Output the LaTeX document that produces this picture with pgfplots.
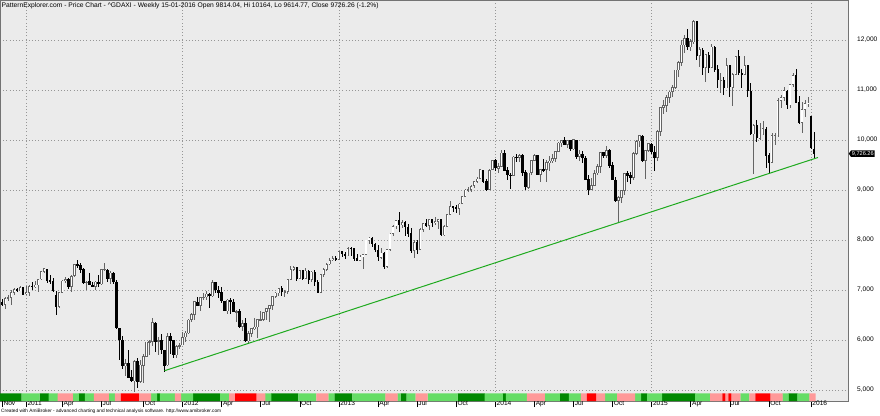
\documentclass[border=0pt]{standalone}
\usepackage{fontspec}
\setmainfont{Liberation Sans}
\usepackage{pgfplots}
\pgfplotsset{compat=1.18}
\usepackage{pgfplotstable}
\usetikzlibrary{shapes.symbols}
\definecolor{bgc}{RGB}{235,235,235}
\definecolor{dgreen}{RGB}{0,136,0}
\definecolor{lgreen}{RGB}{102,221,102}
\definecolor{pinkc}{RGB}{255,153,153}
\definecolor{redc}{RGB}{255,0,0}
\definecolor{trend}{RGB}{30,170,30}
\definecolor{upc}{RGB}{100,100,100}
\definecolor{gridc}{RGB}{150,150,150}

\pgfplotstableread{
i o h l c k
0 6610 6800 6580 6754 1
1 6760 6830 6680 6700 1
2 6700 6850 6620 6830 1
3 6830 6900 6780 6849 1
4 6850 6990 6700 6947 1
5 6950 7040 6900 7006 1
6 7010 7050 6960 6982 1
7 6980 7080 6970 7057 1
8 7050 7060 6900 6914 2
9 6920 7080 6900 6948 2
10 6950 7100 6880 7075 2
11 7080 7160 7000 7062 2
12 7060 7180 7030 7102 2
13 7100 7230 6960 7216 2
14 7220 7380 7200 7371 1
15 7370 7440 7330 7426 1
16 7420 7430 7150 7185 1
17 7190 7300 7120 7178 2
18 7180 7230 6950 6981 2
19 6900 6970 6500 6664 2
20 6670 6960 6640 6946 3
21 6950 7200 6940 7180 3
22 7180 7250 7140 7217 3
23 7210 7230 7020 7073 3
24 7070 7290 6960 7276 3
25 7280 7520 7270 7514 2
26 7510 7600 7440 7492 2
27 7490 7540 7350 7410 1
28 7410 7450 7130 7152 1
29 7150 7190 7000 7163 2
30 7170 7330 7100 7109 2
31 7100 7160 7050 7069 2
32 7070 7180 7000 7164 3
33 7160 7290 7060 7121 3
34 7120 7420 7110 7419 3
35 7420 7530 7380 7420 3
36 7400 7420 7150 7220 3
37 7220 7380 7120 7344 2
38 7340 7360 7130 7158 2
39 7150 7200 6220 6236 3
40 6230 6250 5610 5997 3
41 6000 6080 5430 5480 4
42 5480 5620 5280 5537 4
43 5540 5800 5240 5246 4
44 5250 5410 5170 5189 4
45 5180 5600 4965 5574 4
46 5570 5650 5050 5164 4
47 5170 5600 5150 5502 3
48 5490 5730 5150 5675 3
49 5670 5970 5660 5965 3
50 5960 6000 5700 5971 3
51 5970 6430 5880 6346 2
52 6340 6350 5760 5966 2
53 5970 6060 5700 5986 1
54 5990 6130 5720 5800 2
55 5800 5800 5370 5492 2
56 5500 6150 5480 6080 2
57 6080 6140 5730 5986 2
58 5990 6000 5650 5702 2
59 5700 5900 5650 5878 3
60 5880 5940 5830 5898 3
61 5900 6170 5900 6057 2
62 6060 6190 5960 6143 2
63 6140 6420 6120 6404 2
64 6400 6530 6350 6512 2
65 6500 6770 6400 6766 1
66 6760 6850 6680 6692 1
67 6690 6860 6570 6849 1
68 6850 6940 6800 6864 1
69 6860 6980 6800 6921 1
70 6920 6930 6630 6880 1
71 6880 7190 6860 7157 1
72 7150 7160 6940 6996 1
73 6990 7080 6830 6946 1
74 6950 7050 6740 6775 2
75 6770 6790 6580 6583 2
76 6580 6820 6520 6801 2
77 6800 6850 6530 6762 3
78 6760 6810 6550 6562 3
79 6560 6600 6360 6579 4
80 6580 6620 6250 6271 4
81 6270 6400 6180 6339 4
82 6340 6440 5960 5978 4
83 5980 6180 5914 6130 4
84 6130 6250 6060 6229 4
85 6230 6430 6200 6263 4
86 6260 6420 6050 6416 3
87 6410 6580 6400 6410 3
88 6410 6560 6380 6557 3
89 6560 6640 6400 6630 2
90 6630 6700 6350 6690 2
91 6690 6880 6590 6865 1
92 6870 6960 6830 6944 1
93 6940 7050 6880 7040 1
94 7040 7080 6880 6971 1
95 6970 7000 6860 6970 1
96 6970 7220 6920 7214 1
97 7210 7480 7200 7412 1
98 7410 7480 7370 7451 1
99 7450 7460 7180 7216 1
100 7220 7400 7210 7398 2
101 7390 7400 7200 7233 2
102 7230 7430 7220 7380 2
103 7380 7400 7120 7203 2
104 7200 7370 7150 7363 2
105 7360 7400 7090 7163 2
106 7160 7190 6940 6950 3
107 6950 7330 6940 7309 3
108 7310 7430 7260 7405 3
109 7400 7530 7370 7517 3
110 7520 7630 7500 7597 2
111 7600 7680 7580 7636 2
112 7630 7680 7590 7612 1
113 7610 7790 7600 7776 1
114 7770 7780 7660 7715 1
115 7710 7750 7620 7702 1
116 7700 7860 7680 7833 1
117 7840 7860 7680 7833 1
118 7830 7850 7590 7634 2
119 7640 7730 7580 7593 2
120 7590 7700 7580 7661 2
121 7660 7720 7420 7708 2
122 7710 8010 7700 8004 2
123 8000 8060 7920 8043 2
124 8040 8060 7860 7917 2
125 7910 7950 7760 7795 2
126 7790 7900 7590 7658 2
127 7650 7850 7630 7744 2
128 7740 7760 7420 7459 2
129 7460 7830 7440 7815 3
130 7810 8130 7770 8122 3
131 8120 8300 8070 8279 3
132 8280 8410 8230 8399 3
133 8400 8560 8150 8305 2
134 8300 8400 8240 8349 1
135 8350 8370 8080 8255 1
136 8250 8320 8050 8128 2
137 8130 8250 7750 7789 2
138 7790 8000 7640 7959 2
139 7960 8010 7730 7806 3
140 7810 8230 7800 8212 3
141 8210 8350 8170 8331 3
142 8330 8430 8270 8295 3
143 8290 8420 8200 8410 2
144 8410 8430 8260 8338 2
145 8340 8460 8290 8366 2
146 8370 8420 8220 8416 2
147 8410 8420 8090 8103 2
148 8100 8300 8090 8275 2
149 8270 8520 8260 8510 2
150 8510 8770 8500 8675 2
151 8670 8680 8570 8665 2
152 8660 8690 8540 8639 2
153 8630 8740 8510 8725 1
154 8730 8880 8720 8870 1
155 8870 9010 8860 9001 1
156 9000 9060 8950 9009 1
157 9010 9100 8950 9078 1
158 9080 9190 9050 9168 1
159 9170 9270 9150 9225 1
160 9230 9410 9220 9405 1
161 9400 9410 9140 9172 1
162 9170 9220 8990 9006 2
163 9010 9420 9000 9400 2
164 9400 9600 9390 9589 2
165 9590 9620 9390 9435 2
166 9430 9530 9330 9473 2
167 9470 9790 9460 9742 2
168 9740 9800 9370 9392 1
169 9390 9460 9210 9306 2
170 9300 9340 9010 9289 2
171 9290 9670 9280 9662 2
172 9660 9720 9560 9656 2
173 9650 9720 9560 9692 2
174 9690 9720 9290 9350 2
175 9350 9400 9010 9056 2
176 9050 9350 9020 9342 3
177 9340 9590 9300 9587 3
178 9590 9720 9570 9695 3
179 9690 9700 9300 9315 3
180 9310 9420 9160 9409 3
181 9410 9620 9360 9401 3
182 9400 9610 9160 9556 2
183 9550 9680 9390 9581 2
184 9580 9720 9540 9630 2
185 9630 9770 9560 9768 2
186 9770 9960 9760 9943 2
187 9940 10000 9850 9987 1
188 9990 10050 9900 9912 1
189 9910 9990 9850 9987 1
190 9990 10010 9780 9816 2
191 9820 10030 9810 10009 2
192 10000 10010 9620 9666 2
193 9670 9810 9590 9720 2
194 9720 9780 9540 9644 3
195 9640 9690 9200 9210 3
196 9210 9300 8900 9010 4
197 9010 9250 9000 9092 4
198 9090 9400 9080 9339 4
199 9340 9520 9300 9470 3
200 9470 9760 9330 9747 3
201 9750 9770 9640 9691 3
202 9690 9890 9640 9799 2
203 9800 9820 9450 9490 2
204 9490 9560 9190 9195 2
205 9190 9260 8760 8788 2
206 8790 8880 8355 8850 3
207 8850 9010 8750 8988 3
208 8990 9340 8900 9326 3
209 9330 9390 9160 9291 3
210 9290 9370 9130 9252 3
211 9250 9750 9200 9732 3
212 9730 9990 9700 9980 2
213 9980 10100 9870 10087 2
214 10080 10090 9560 9594 1
215 9590 9810 9220 9787 1
216 9790 9930 9770 9927 2
217 9920 9930 9720 9764 2
218 9760 9880 9380 9648 2
219 9650 10190 9580 10167 2
220 10170 10660 10070 10649 2
221 10650 10810 10530 10694 1
222 10690 10910 10560 10846 1
223 10840 10990 10740 10963 1
224 10960 11100 10860 11050 1
225 11050 11410 11020 11402 1
226 11400 11580 11260 11551 1
227 11550 12000 11480 11901 1
228 11900 12100 11740 12040 1
229 12040 12220 11800 11868 1
230 11860 12030 11780 11968 1
231 11960 12390 11920 12375 1
232 12370 12380 11600 11689 2
233 11690 11850 11450 11811 2
234 11800 11830 11300 11454 2
235 11450 11720 11150 11709 2
236 11700 11760 11340 11447 2
237 11450 11920 11440 11865 3
238 11860 11880 11360 11413 3
239 11410 11500 11040 11197 3
240 11190 11330 10940 11196 3
241 11190 11260 10900 11041 4
242 11040 11630 11030 11492 3
243 11490 11500 10860 11059 4
244 11050 11330 10680 11315 3
245 11310 11690 11300 11673 3
246 11670 11800 11300 11347 3
247 11340 11420 11050 11308 2
248 11300 11670 11290 11490 2
249 11490 11510 10870 10985 2
250 10980 11130 10100 10124 3
251 10120 10330 9330 10298 3
252 10290 10400 9960 10038 4
253 10030 10330 10000 10124 4
254 10120 10380 10090 10229 4
255 10220 10260 9430 9688 4
256 9690 9750 9325 9553 4
257 9550 10140 9540 10096 3
258 10090 10130 9900 10104 3
259 10100 10850 10070 10795 3
260 10790 10900 10640 10850 3
261 10850 11060 10780 10988 2
262 10980 11000 10620 10708 2
263 10700 11130 10640 11119 1
264 11110 11340 11060 11293 1
265 11290 11430 10740 10752 1
266 10750 10880 10330 10340 2
267 10340 10760 10140 10608 2
268 10600 10790 10450 10727 2
269 10720 10860 10670 10743 2
270 10480 10490 9820 9849 3
271 9814 10164 9615 9726 3
}\dax

\pgfplotsset{
  candle/.style n args={2}{draw=none, no markers, forget plot,
    error bars/y dir=both, error bars/y explicit, error bars/error mark=none,
    error bars/error bar style={draw=#1, line width=#2, solid}},
}

\begin{document}
\begin{tikzpicture}
\useasboundingbox (0,-14pt) rectangle (880pt,401pt);
\begin{axis}[
  at={(0,0)}, anchor=south west,
  scale only axis, width=848pt, height=401pt,
  xmin=0.3, xmax=282.3, ymin=4780, ymax=12800,
  clip mode=individual,
  axis background/.style={fill=bgc},
  axis line style={black!55},
  scaled y ticks=false, scaled x ticks=false,
  xtick={9,61,113,165,217,270},
  xticklabels={2011,2012,2013,2014,2015,2016},
  extra x ticks={1,21,34,48,74,87,100,126,139,152,178,191,204,230,243,256},
  extra x tick labels={Nov,Apr,Jul,Oct,Apr,Jul,Oct,Apr,Jul,Oct,Apr,Jul,Oct,Apr,Jul,Oct},
  extra x tick style={grid=none},
  ytick={5000,6000,...,12000},
  yticklabels={{5,000},{6,000},{7,000},{8,000},{9,000},{10,000},{11,000},{12,000}},
  xtick pos=bottom, ytick pos=right, yticklabel pos=right,
  tick align=outside, major tick length=6pt,
  tick style={black, line width=0.6pt},
  ytick style={draw=none},
  tick label style={font=\fontsize{6.6}{7}\selectfont},
  xticklabel style={anchor=north west, inner sep=0pt, xshift=1.2pt, yshift=6pt},
  yticklabel style={anchor=west, inner sep=0pt, xshift=3pt},
  xmajorgrids, ymajorgrids,
  major grid style={gridc, dash pattern=on 0.8pt off 2.4pt, line width=0.5pt},
]
% colour strip
\addplot [ybar, bar width=1.03, bar shift=0pt, fill=dgreen, draw=none, restrict expr to domain={\thisrow{k}}{0.5:1.5}] table [x=i, y expr=4935] {\dax};
\addplot [ybar, bar width=1.03, bar shift=0pt, fill=lgreen, draw=none, restrict expr to domain={\thisrow{k}}{1.5:2.5}] table [x=i, y expr=4935] {\dax};
\addplot [ybar, bar width=1.03, bar shift=0pt, fill=pinkc, draw=none, restrict expr to domain={\thisrow{k}}{2.5:3.5}] table [x=i, y expr=4935] {\dax};
\addplot [ybar, bar width=1.03, bar shift=0pt, fill=redc, draw=none, restrict expr to domain={\thisrow{k}}{3.5:4.5}] table [x=i, y expr=4935] {\dax};
% wicks
\addplot [restrict expr to domain={\thisrow{c}-\thisrow{o}}{0:100000}, candle={upc}{0.8pt}]
  table [x=i, y expr={(\thisrow{h}+\thisrow{l})/2}, y error expr={(\thisrow{h}-\thisrow{l})/2}] {\dax};
\addplot [restrict expr to domain={\thisrow{c}-\thisrow{o}}{-100000:-0.001}, candle={black}{0.8pt}]
  table [x=i, y expr={(\thisrow{h}+\thisrow{l})/2}, y error expr={(\thisrow{h}-\thisrow{l})/2}] {\dax};
% up bodies: outline then white inside
\addplot [restrict expr to domain={\thisrow{c}-\thisrow{o}}{0:100000}, candle={upc}{2.5pt}]
  table [x=i, y expr={(\thisrow{o}+\thisrow{c})/2}, y error expr={(\thisrow{c}-\thisrow{o})/2+5}] {\dax};
\addplot [restrict expr to domain={\thisrow{c}-\thisrow{o}}{0:100000}, candle={white}{1.1pt}]
  table [x=i, y expr={(\thisrow{o}+\thisrow{c})/2}, y error expr={max((\thisrow{c}-\thisrow{o})/2-10,0)}] {\dax};
% down bodies
\addplot [restrict expr to domain={\thisrow{c}-\thisrow{o}}{-100000:-0.001}, candle={black}{2.5pt}]
  table [x=i, y expr={(\thisrow{o}+\thisrow{c})/2}, y error expr={(\thisrow{o}-\thisrow{c})/2+5}] {\dax};
% trend line
\addplot [trend, line width=1pt] coordinates {(55,5385) (272.3,9650)};
\node [anchor=north west, inner sep=0pt, font=\fontsize{6.7}{8}\selectfont] at (rel axis cs:0,1) [xshift=1.5pt, yshift=-2pt]
  {PatternExplorer.com - Price Chart - \textasciicircum GDAXI - Weekly 15-01-2016 Open 9814.04, Hi 10164, Lo 9614.77, Close 9726.26 (-1.2\%)};
\node [anchor=west, inner sep=0pt, font=\fontsize{4.8}{5}\selectfont] at (rel axis cs:0,0) [xshift=1pt, yshift=-10.5pt]
  {Created with AmiBroker - advanced charting and technical analysis software. http://www.amibroker.com};
\node [signal, signal to=west, signal pointer angle=110, fill=black, text=white, inner sep=0.9pt, anchor=west, font=\fontsize{5.6}{6}\selectfont]
  at (axis cs:282.3,9726.26) [xshift=0.5pt] {9,726.26};
\end{axis}
\end{tikzpicture}
\end{document}
